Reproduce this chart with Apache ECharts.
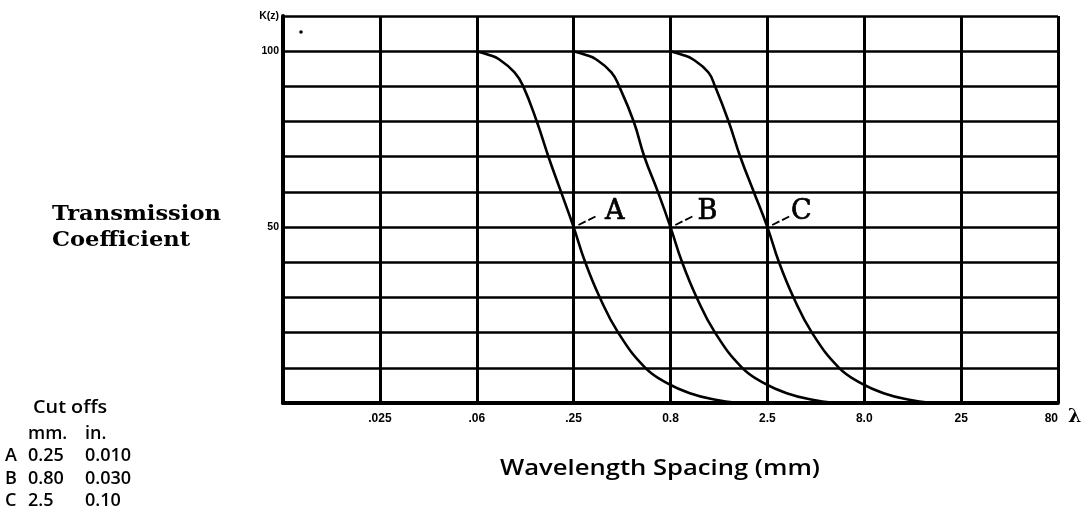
<!DOCTYPE html>
<html><head><meta charset="utf-8">
<script src="https://cdn.jsdelivr.net/npm/echarts@6/dist/echarts.min.js"></script>
<style>html,body{margin:0;padding:0;background:#fff}#c{width:1087px;height:513px}</style>
</head><body><div id="c"></div>
<script>
// X grid positions 0..8 (evenly spaced log-like scale), tick labels
const xTickLabels = ['', '.025', '.06', '.25', '0.8', '2.5', '8.0', '25', '80'];
const yTickLabels = { 110: 'K(z)', 100: '100', 50: '50' };

// Curves: [x position, transmission %]
const curveA = [[2.0,100],[2.12,99],[2.23,97.7],[2.39,94],[2.48,90],[2.62,80],[2.74,70],[2.87,60],[3.0,50],[3.12,40],[3.27,30],[3.46,20],[3.74,10],[3.97,5.6],[4.2,2.8],[4.45,1.0],[4.7,0]];
const curveB = [[3.0,100],[3.12,99],[3.23,97.7],[3.39,94],[3.47,90],[3.62,80],[3.73,70],[3.87,60],[4.0,50],[4.12,40],[4.27,30],[4.46,20],[4.74,10],[4.97,5.6],[5.2,2.8],[5.45,1.0],[5.7,0]];
const curveC = [[4.0,100],[4.12,99],[4.23,97.7],[4.39,94],[4.46,90],[4.6,80],[4.72,70],[4.86,60],[5.0,50],[5.12,40],[5.27,30],[5.46,20],[5.74,10],[5.97,5.6],[6.2,2.8],[6.45,1.0],[6.7,0]];

const cutoffLetters = ['A', 'B', 'C'];
const cutoffX = [3, 4, 5];          // where each curve crosses 50 %
const cutoffMM = ['0.25', '0.80', '2.5'];
const cutoffIn = ['0.010', '0.030', '0.10'];

const chart = echarts.init(document.getElementById('c'), null, { renderer: 'canvas' });

const letterOffsets = [[41, -15], [37, -15], [34, -15]];
function curveSeries(data, i) {
  const cx = cutoffX[i];
  return {
    type: 'line', data: data, smooth: 0.45, showSymbol: false, silent: true,
    lineStyle: { color: '#000', width: 2.6 },
    markPoint: {
      symbol: 'circle', symbolSize: 0, silent: true,
      data: [{ coord: [cx, 50], value: cutoffLetters[i] }],
      label: { show: true, formatter: cutoffLetters[i], offset: letterOffsets[i],
        fontFamily: 'DejaVu Serif', fontSize: 27, color: '#000', textBorderColor: '#000', textBorderWidth: 0.7 }
    },
    markLine: {
      symbol: 'none', silent: true, label: { show: false },
      lineStyle: { color: '#000', width: 1.8, type: [8, 3] },
      data: [[{ coord: [cx + 0.05, 50.6] }, { coord: [cx + 0.24, 53.2] }]]
    }
  };
}

function txt(x, y, text, font, sx) {
  return { type: 'text', x: x, y: y, scaleX: sx || 1, originX: 0, originY: 0,
    style: { text: text, font: font, fill: '#000', align: 'left', verticalAlign: 'middle' } };
}

const tableFont = '600 18px "Open Sans"';
const graphics = [
  txt(52, 215, 'Transmission', 'bold 20px "DejaVu Serif"', 1.13),
  txt(52, 241, 'Coefficient', 'bold 20px "DejaVu Serif"', 1.13),
  txt(500, 469, 'Wavelength Spacing (mm)', '600 21px "Open Sans"', 1.22),
  txt(33, 408, 'Cut offs', tableFont, 1.1),
  txt(28, 434, 'mm.', tableFont),
  txt(85, 434, 'in.', tableFont),
  { type: 'circle', shape: { cx: 301, cy: 32, r: 1.8 }, style: { fill: '#000' } }
];
cutoffLetters.forEach((L, i) => {
  const y = 456 + i * 22.5;
  graphics.push(txt(5, y, L, tableFont));
  graphics.push(txt(28, y, cutoffMM[i], tableFont));
  graphics.push(txt(85, y, cutoffIn[i], tableFont));
});

chart.setOption({
  animation: false,
  backgroundColor: '#fff',
  grid: { left: 283, right: 29, top: 16, bottom: 110, containLabel: false },
  xAxis: {
    type: 'value', min: 0, max: 8, interval: 1,
    axisLine: { show: true, lineStyle: { color: '#000', width: 4 } },
    axisTick: { show: false },
    splitLine: { show: true, lineStyle: { color: '#000', width: 3 } },
    axisLabel: { show: true, color: '#000', fontFamily: 'Liberation Sans', fontWeight: 'bold', fontSize: 12, margin: 10,
      alignMaxLabel: 'right',
      formatter: v => xTickLabels[Math.round(v)] || '' },
    name: 'λ', nameLocation: 'end', nameGap: 10,
    nameTextStyle: { color: '#000', fontFamily: 'DejaVu Serif', fontWeight: 'bold', fontSize: 19, verticalAlign: 'top', padding: [5, 0, 0, 0] }
  },
  yAxis: {
    type: 'value', min: 0, max: 110, interval: 10,
    axisLine: { show: true, lineStyle: { color: '#000', width: 4 } },
    axisTick: { show: false },
    splitLine: { show: true, lineStyle: { color: '#000', width: 2.6 } },
    axisLabel: { show: true, color: '#000', fontFamily: 'Liberation Sans', fontWeight: 'bold', fontSize: 10.5, margin: 4,
      formatter: v => yTickLabels[Math.round(v)] || '' }
  },
  graphic: graphics,
  series: [curveSeries(curveA, 0), curveSeries(curveB, 1), curveSeries(curveC, 2)]
});
</script></body></html>
